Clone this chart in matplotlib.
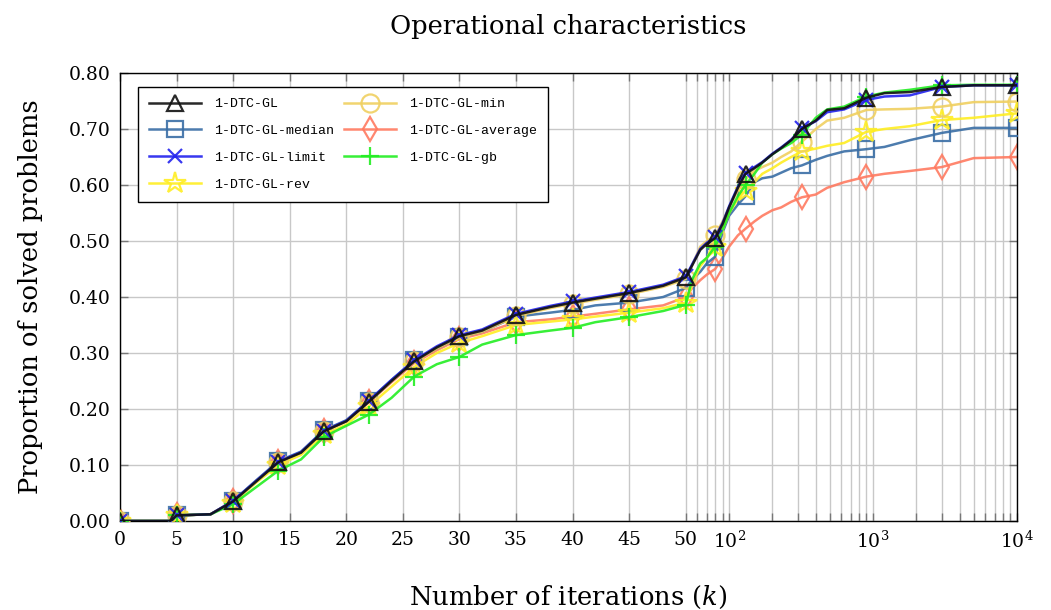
import numpy as np
import matplotlib
matplotlib.use("Agg")
import matplotlib.pyplot as plt
from matplotlib.ticker import FixedLocator, FixedFormatter

# ---------------- data ----------------
iters = [0, 4.5, 5, 8, 10, 12, 14, 16, 18, 20, 22, 24, 26, 28, 30, 32, 35, 38, 40, 42, 45, 48, 50,
         55, 63, 70, 80, 90, 100, 115, 130, 150, 170, 200, 230, 270, 320, 400, 480, 630, 900,
         1200, 1800, 3000, 5000, 10000]

gl = [0, 0, 0.010, 0.012, 0.035, 0.070, 0.105, 0.122, 0.160, 0.178, 0.213, 0.250, 0.285, 0.310, 0.330,
      0.340, 0.368, 0.382, 0.390, 0.397, 0.407, 0.420, 0.435,
      0.455, 0.484, 0.495, 0.505, 0.530, 0.560, 0.595, 0.620, 0.630, 0.640, 0.655, 0.666, 0.680,
      0.700, 0.715, 0.734, 0.737, 0.756, 0.764, 0.766, 0.775, 0.778, 0.778]

median = [0, 0, 0.010, 0.012, 0.036, 0.072, 0.107, 0.124, 0.162, 0.180, 0.215, 0.252, 0.287, 0.308, 0.328,
          0.338, 0.365, 0.372, 0.377, 0.385, 0.390, 0.400, 0.416,
          0.430, 0.445, 0.460, 0.472, 0.515, 0.545, 0.565, 0.580, 0.605, 0.612, 0.615, 0.622, 0.630,
          0.635, 0.645, 0.652, 0.660, 0.664, 0.668, 0.680, 0.693, 0.702, 0.702]

limit = [0, 0, 0.010, 0.012, 0.036, 0.071, 0.106, 0.123, 0.161, 0.179, 0.215, 0.252, 0.287, 0.312, 0.332,
         0.342, 0.370, 0.384, 0.392, 0.399, 0.409, 0.422, 0.437,
         0.457, 0.486, 0.497, 0.507, 0.532, 0.562, 0.597, 0.622, 0.632, 0.641, 0.656, 0.667, 0.681,
         0.701, 0.714, 0.730, 0.735, 0.752, 0.758, 0.760, 0.775, 0.778, 0.778]

rev = [0, 0, 0.010, 0.012, 0.033, 0.068, 0.100, 0.118, 0.155, 0.172, 0.205, 0.240, 0.275, 0.300, 0.318,
       0.330, 0.350, 0.356, 0.360, 0.365, 0.372, 0.380, 0.390,
       0.420, 0.455, 0.470, 0.490, 0.520, 0.550, 0.575, 0.590, 0.605, 0.620, 0.630, 0.640, 0.650,
       0.660, 0.665, 0.670, 0.675, 0.695, 0.700, 0.705, 0.716, 0.720, 0.728]

vmin = [0, 0, 0.010, 0.012, 0.035, 0.070, 0.105, 0.122, 0.160, 0.178, 0.213, 0.250, 0.285, 0.308, 0.328,
        0.338, 0.366, 0.380, 0.388, 0.395, 0.405, 0.418, 0.432,
        0.455, 0.490, 0.500, 0.510, 0.535, 0.560, 0.590, 0.610, 0.625, 0.632, 0.640, 0.650, 0.660,
        0.677, 0.700, 0.715, 0.720, 0.734, 0.735, 0.736, 0.740, 0.748, 0.749]

average = [0, 0, 0.010, 0.012, 0.035, 0.070, 0.105, 0.122, 0.160, 0.178, 0.212, 0.248, 0.282, 0.305, 0.325,
           0.335, 0.355, 0.360, 0.365, 0.370, 0.378, 0.385, 0.400,
           0.415, 0.430, 0.440, 0.450, 0.470, 0.490, 0.510, 0.522, 0.535, 0.545, 0.555, 0.560, 0.570,
           0.578, 0.583, 0.595, 0.605, 0.615, 0.620, 0.625, 0.632, 0.648, 0.650]

gb = [0, 0, 0.010, 0.012, 0.030, 0.060, 0.090, 0.110, 0.150, 0.170, 0.190, 0.220, 0.258, 0.280, 0.293,
      0.315, 0.332, 0.340, 0.345, 0.355, 0.364, 0.375, 0.386,
      0.430, 0.460, 0.470, 0.490, 0.520, 0.550, 0.580, 0.600, 0.620, 0.640, 0.655, 0.665, 0.675,
      0.690, 0.720, 0.735, 0.740, 0.758, 0.765, 0.770, 0.778, 0.779, 0.779]

mark_iters = [0, 5, 10, 14, 18, 22, 26, 30, 35, 40, 45, 50, 80, 130, 320, 900, 3000, 10000]

names = ["1-DTC-GL", "1-DTC-GL-median", "1-DTC-GL-limit", "1-DTC-GL-rev",
         "1-DTC-GL-min", "1-DTC-GL-average", "1-DTC-GL-gb"]

xticks_major = [0, 5, 10, 15, 20, 25, 30, 35, 40, 45, 50, 100, 1000, 10000]
xtick_labels = ["0", "5", "10", "15", "20", "25", "30", "35", "40", "45", "50",
                "$10^2$", "$10^3$", "$10^4$"]
xticks_minor = [60, 70, 80, 90, 200, 300, 400, 500, 600, 700, 800, 900,
                2000, 3000, 4000, 5000, 6000, 7000, 8000, 9000]
yticks = [0.0, 0.1, 0.2, 0.3, 0.4, 0.5, 0.6, 0.7, 0.8]

# ---------------- styling ----------------
plt.rcParams["font.family"] = ["DejaVu Serif"]
plt.rcParams["mathtext.fontset"] = "dejavuserif"

K = 12.72  # linear units per decade in log part


def fwd(x):
    x = np.asarray(x, dtype=float)
    return np.where(x <= 50, x, 50 + K * np.log10(np.maximum(x, 1e-9) / 50.0))


def bwd(y):
    y = np.asarray(y, dtype=float)
    return np.where(y <= 50, y, 50 * 10 ** ((y - 50) / K))


fig = plt.figure(figsize=(10.51, 6.10), dpi=100)
ax = fig.add_axes([120 / 1051, 1 - 521 / 610, (1017 - 120) / 1051, (521 - 73) / 610])
ax.set_xscale("function", functions=(fwd, bwd))

series = [gl, median, limit, rev, vmin, average, gb]
colors = ["#111111", "#3a6ea5", "#2222ee", "#ffee22", "#f0d060", "#ff7a60", "#22ee22"]
markers = ["^", "s", "x", "*", "o", "d", "+"]
msizes = [11, 12, 10, 16, 13, 12, 13]
zorders = [8, 3, 7, 4, 5, 2, 6]

idx = [iters.index(m) for m in mark_iters]

for ys, c, m, ms, nm, z in zip(series, colors, markers, msizes, names, zorders):
    ax.plot(iters, ys, color=c, lw=1.8, marker=m, ms=ms, mfc="none", mec=c, mew=1.6,
            markevery=idx, label=nm, zorder=z, alpha=0.9)

ax.set_xlim(0, 10000)
ax.set_ylim(0, 0.8)
ax.xaxis.set_major_locator(FixedLocator(xticks_major))
ax.xaxis.set_major_formatter(FixedFormatter(xtick_labels))
ax.xaxis.set_minor_locator(FixedLocator(xticks_minor))
ax.xaxis.set_minor_formatter(FixedFormatter([""] * len(xticks_minor)))
ax.set_yticks(yticks)
ax.set_yticklabels([f"{v:.2f}" for v in yticks])

ax.grid(True, which="both", color="#c8c8c8", lw=1.0, zorder=0)
ax.set_axisbelow(True)
ax.tick_params(which="both", direction="in", top=True, right=True, length=6,
               color="#777777", width=1.0, labelsize=13.5, pad=7)
for s in ax.spines.values():
    s.set_color("black")
    s.set_linewidth(1.0)

ax.set_title("Operational characteristics", fontsize=18.5, pad=28)
ax.set_xlabel("Number of iterations ($k$)", fontsize=18.5, labelpad=23)
ax.set_ylabel("Proportion of solved problems", fontsize=18.5, labelpad=18)

leg = ax.legend(loc="upper left", bbox_to_anchor=(0.02, 0.969), ncol=2, frameon=True,
                fancybox=False, edgecolor="black", framealpha=1,
                prop={"family": "Liberation Mono", "size": 9.5},
                handlelength=3.9, columnspacing=0.8, labelspacing=1.1, borderpad=0.85,
                handletextpad=1.0, borderaxespad=0)
leg.get_frame().set_linewidth(1.0)
leg.set_zorder(20)

fig.savefig("out.png", dpi=100)
